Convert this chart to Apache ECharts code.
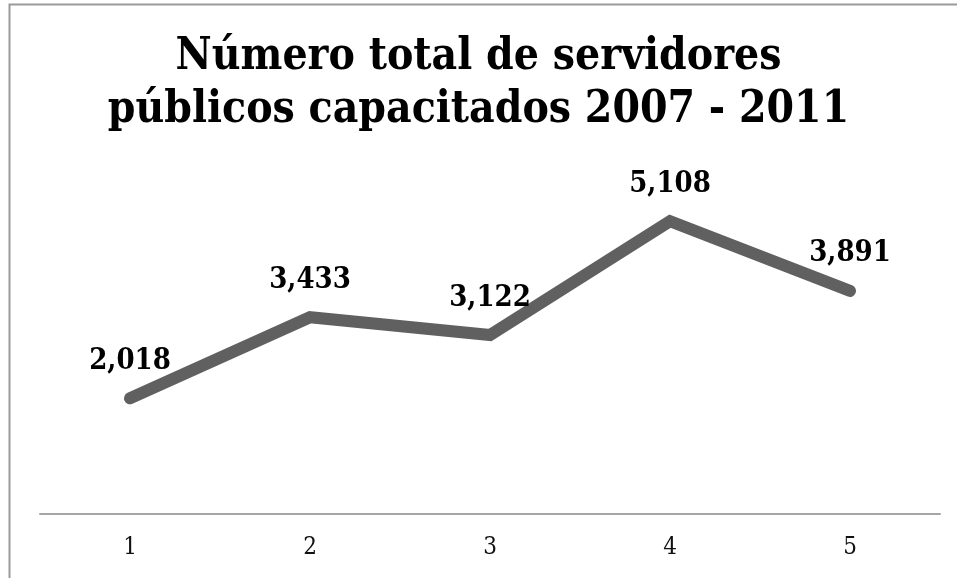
<!DOCTYPE html>
<html><head><meta charset="utf-8">
<script src="https://cdn.jsdelivr.net/npm/echarts@6/dist/echarts.min.js"></script>
<style>html,body{margin:0;padding:0;background:#fff}#c{width:957px;height:578px}</style>
</head><body><div id="c"></div>
<script>
const titleText = 'Número total de servidores\npúblicos capacitados 2007 - 2011';
const categories = ['1', '2', '3', '4', '5'];
const values = [2018, 3433, 3122, 5108, 3891];

const serif = '"DejaVu Serif Condensed", "DejaVu Serif", serif';
const chart = echarts.init(document.getElementById('c'), null, {renderer: 'canvas'});
chart.setOption({
  animation: false,
  backgroundColor: '#fff',
  graphic: [{
    type: 'rect', z: 0,
    shape: {x: 9.5, y: 4.5, width: 1200, height: 1200},
    style: {fill: 'none', stroke: '#9a9a9a', lineWidth: 2}
  }],
  title: {
    text: titleText,
    left: 'center', top: 26,
    textStyle: {fontFamily: serif, fontWeight: 'bold', fontSize: 44, lineHeight: 53, color: '#000'}
  },
  grid: {left: 40, right: 17, top: 170, bottom: 64, containLabel: false},
  xAxis: {
    type: 'category', data: categories, boundaryGap: true,
    axisLine: {lineStyle: {color: '#a6a6a6', width: 2}},
    axisTick: {show: false},
    axisLabel: {fontFamily: serif, fontSize: 24, color: '#111', margin: 22}
  },
  yAxis: {
    type: 'value', min: 0, max: 6000, show: false,
    splitLine: {show: false}
  },
  series: [{
    type: 'line', data: values, symbol: 'circle', symbolSize: 1, showSymbol: true,
    itemStyle: {color: '#606060'},
    lineStyle: {color: '#606060', width: 12, cap: 'round', join: 'miter'},
    label: {
      show: true, position: 'top', distance: 22,
      fontFamily: serif, fontWeight: 'bold', fontSize: 29, color: '#000',
      formatter: p => p.value.toLocaleString('en-US')
    }
  }]
});
</script></body></html>
